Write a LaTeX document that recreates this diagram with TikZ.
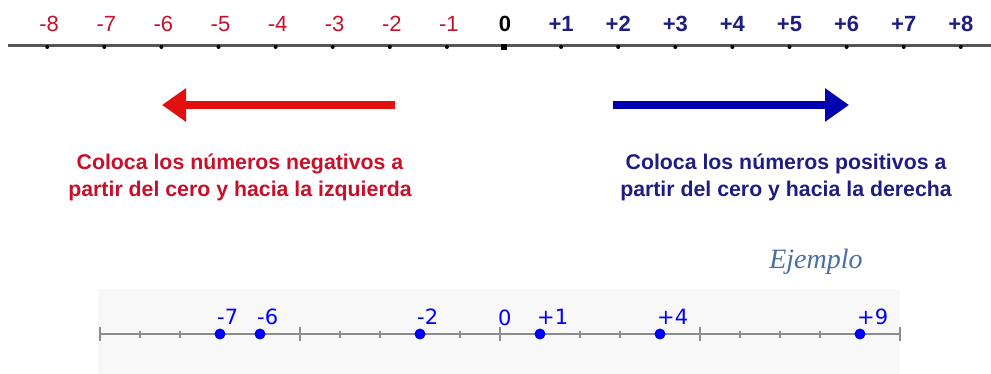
\documentclass[tikz,border=0pt]{standalone}
\usepackage{fontspec}
\setmainfont{Liberation Sans}
\newfontfamily\geofont{DejaVu Sans}
\newfontfamily\notefont{Liberation Serif}
\usetikzlibrary{arrows.meta,positioning}
\definecolor{negred}{RGB}{200,16,42}
\definecolor{posblue}{RGB}{30,30,130}
\definecolor{arrred}{RGB}{225,15,15}
\definecolor{arrblue}{RGB}{0,0,175}
\definecolor{axisgray}{RGB}{85,85,85}
\definecolor{geogray}{RGB}{140,140,140}
\definecolor{panelgray}{RGB}{248,248,248}
\definecolor{geoblue}{RGB}{0,0,255}
\definecolor{notecol}{RGB}{75,110,160}
\tikzset{
  >=Stealth,
  neglab/.style={text=negred,font=\fontsize{22}{22}\selectfont,inner sep=0pt},
  poslab/.style={text=posblue,font=\bfseries\fontsize{22}{22}\selectfont,inner sep=0pt},
  zerolab/.style={text=black,font=\bfseries\fontsize{22}{22}\selectfont,inner sep=0pt},
  hint/.style={align=center,font=\bfseries\fontsize{21.3}{27}\selectfont,inner sep=0pt},
  bigarrow/.style={line width=8pt,-{Triangle[length=24pt,width=32pt]}},
  pt/.style={circle,fill=geoblue,inner sep=0pt,minimum size=11pt},
  ptlab/.style={text=geoblue,font=\geofont\fontsize{21}{21}\selectfont,inner sep=0pt,anchor=south west}
}
\begin{document}
\begin{tikzpicture}[x=1pt,y=-1pt]
\useasboundingbox (0,0) rectangle (991,374);
% top number line
\coordinate (lineL) at (8,46);
\coordinate (lineR) at (991,46);
\draw[axisgray,line width=3pt] (lineL) -- (lineR);
\foreach \i in {1,...,8}{
  \fill[black] ({504-57.1*\i},47) circle (2pt);
  \node[neglab] (n\i) at ({504-57.1*\i+2},24) {-\i};
  \fill[black] ({504+57.1*\i},47) circle (2pt);
  \node[poslab] (p\i) at ({504+57.1*\i},24) {+\i};
}
\fill[black] (501,44) rectangle (507,50);
\node[zerolab] (z) at (505,24) {0};
% direction arrows
\coordinate (redS) at (395,105);
\coordinate (redE) at (162,105);
\coordinate (blueS) at (613,105);
\coordinate (blueE) at (849,105);
\draw[bigarrow,arrred] (redS) -- (redE);
\draw[bigarrow,arrblue] (blueS) -- (blueE);
\node[hint,text=negred] (negtxt) at (240,177) {Coloca los números negativos a\\partir del cero y hacia la izquierda};
\node[hint,text=posblue] (postxt) at (786,177) {Coloca los números positivos a\\partir del cero y hacia la derecha};
% example
\node[text=notecol,font=\notefont\itshape\fontsize{28}{28}\selectfont] (ej) at (816,262) {Ejemplo};
\fill[panelgray] (98,289) rectangle (900,374);
\draw[geogray,line width=1.5pt] (100,334) -- (900,334);
\foreach \k in {-10,...,10}{
  \pgfmathsetmacro{\tl}{ifthenelse(mod(\k,5)==0,7,3.5)}
  \draw[geogray,line width=1.5pt] ({500+40*\k},{334-\tl}) -- ({500+40*\k},{334+\tl});
}
\node[ptlab] (zl) at (498,326) {0};
\foreach \v/\s in {-7/-7,-6/-6,-2/-2,1/+1,4/+4,9/+9}{
  \node[pt] (d\v) at ({500+40*\v},334) {};
  \node[ptlab] at ([xshift=-3pt,yshift=9pt]d\v.center) {\s};
}
\end{tikzpicture}
\end{document}
